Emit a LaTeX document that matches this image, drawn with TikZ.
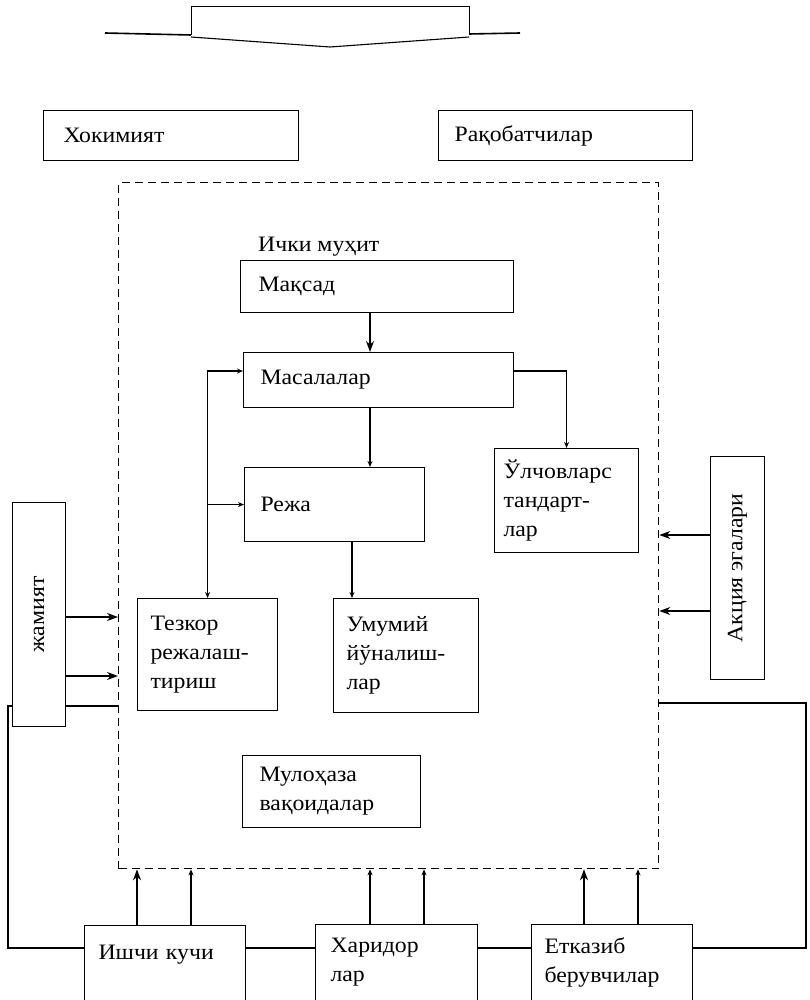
\documentclass[tikz,border=0pt]{standalone}
\usepackage{fontspec}
\setmainfont[FakeStretch=1.08]{Liberation Serif}
\usepackage{graphicx}
\usetikzlibrary{arrows.meta}
\begin{document}
\begin{tikzpicture}[x=1pt,y=-1pt,
 box/.style={draw, line width=1.1pt, fill=white, inner xsep=0pt, inner ysep=0pt, align=left, anchor=north west, font=\fontsize{22}{29}\selectfont},
 vbx/.style={draw, line width=1.1pt, fill=white, inner sep=0pt, anchor=north west, font=\fontsize{22}{29}\selectfont},
 thk/.style={line width=1.6pt, -{Stealth[length=11pt,width=8pt]}},
 thn/.style={line width=1.2pt, -{Stealth[length=6pt,width=5pt]}},
 ln/.style={line width=1.1pt}]
\useasboundingbox (0,0) rectangle (809,1000);
% top block arrow
\draw[line width=1pt] (191,35) -- (191,7) -- (469,7) -- (469,35);
\draw[line width=1.6pt] (105,33) -- (191,35);
\draw[line width=1.6pt] (469,34) -- (520,33);
\draw[line width=1.1pt] (191,37) -- (330,47) -- (469,37);
% environment
\node[draw, dash pattern=on 8pt off 5pt, line width=1.3pt, minimum width=540pt, minimum height=686pt, anchor=north west, inner sep=0pt] (env) at (118,182) {};
\node[anchor=west, inner sep=0pt, font=\fontsize{22}{29}\selectfont] (ich) at (258,247) {Ички муҳит};
% boxes
\node[box, minimum width=255pt, minimum height=50pt, text width=215pt] (hok) at (43,110) {Хокимият};
\node[box, minimum width=254pt, minimum height=50pt, text width=222pt] (rak) at (438,110) {Рақобатчилар};
\node[box, minimum width=273pt, minimum height=52pt, text width=237pt] (maq) at (240,260) {Мақсад};
\node[box, minimum width=270pt, minimum height=55pt, text width=236pt] (mas) at (243,352) {Масалалар};
\node[box, minimum width=180pt, minimum height=74pt, text width=148pt] (rej) at (244,467) {Режа};
\node[box, minimum width=144pt, minimum height=104pt, text width=126pt] (olc) at (494,448) {Ўлчовларс\\тандарт-\\лар};
\node[box, minimum width=140pt, minimum height=112pt, text width=114pt] (tez) at (137,598) {Тезкор\\режалаш-\\тириш};
\node[box, minimum width=145pt, minimum height=114pt, text width=119pt] (umu) at (333,598) {Умумий\\йўналиш-\\лар};
\node[box, minimum width=178pt, minimum height=72pt, text width=144pt] (mul) at (242,755) {Мулоҳаза\\вақоидалар};
\node[box, minimum width=161pt, minimum height=75pt, text width=133pt, text depth=22pt] (ish) at (84,925) {Ишчи кучи};
\node[box, minimum width=162pt, minimum height=76pt, text width=132pt] (har) at (315,924) {Харидор\\лар};
\node[box, minimum width=161pt, minimum height=76pt, text width=135pt] (etk) at (531,924) {Етказиб\\берувчилар};
\node[vbx, minimum width=54pt, minimum height=223pt] (akc) at (710,456) {\rotatebox{90}{Акция эгалари}};
% helper coordinates
\coordinate (yA) at (0,706);
\coordinate (yB) at (0,948);
\coordinate (yC) at (0,703);
\coordinate (xL) at (8,0);
\coordinate (xR) at (806,0);
% outer loop lines
\draw[ln] (env.west |- yA) -- (xL |- yA) -- (xL |- yB) -- (ish.west |- yB);
\draw[ln] (etk.east |- yB) -- (xR |- yB) -- (xR |- yC) -- (env.east |- yC);
\draw[ln] (ish.east |- yB) -- (har.west |- yB);
\draw[ln] (har.east |- yB) -- (etk.west |- yB);
\node[vbx, minimum width=53pt, minimum height=224pt] (jam) at (12,502) {\rotatebox{90}{жамият}};
% inner connectors
\coordinate (xm) at (370,0);
\coordinate (xr) at (352,0);
\draw[thk] (xm |- maq.south) -- (xm |- mas.north);
\draw[thn] (xm |- mas.south) -- (xm |- rej.north);
\draw[thn] ([yshift=9pt]mas.east) -| (olc.north);
\coordinate (j) at (tez.north |- rej.west);
\draw[thn] (j) |- ([yshift=9pt]mas.west);
\draw[thn] (j) -- (rej.west);
\draw[thn] (j) -- (tez.north);
\draw[thn] (xr |- rej.south) -- (xr |- umu.north);
% side arrows
\coordinate (ya1) at (0,617);
\coordinate (ya2) at (0,676);
\coordinate (yb1) at (0,535);
\coordinate (yb2) at (0,611);
\draw[thk] (jam.east |- ya1) -- (env.west |- ya1);
\draw[thk] (jam.east |- ya2) -- (env.west |- ya2);
\draw[thk] (akc.west |- yb1) -- (env.east |- yb1);
\draw[thk] (akc.west |- yb2) -- (env.east |- yb2);
% bottom arrows
\coordinate (b1) at (137,0);
\coordinate (b2) at (191,0);
\coordinate (b3) at (370,0);
\coordinate (b4) at (424,0);
\coordinate (b5) at (584,0);
\coordinate (b6) at (638,0);
\draw[thk] (b1 |- ish.north) -- (b1 |- env.south);
\draw[thn] (b2 |- ish.north) -- (b2 |- env.south);
\draw[thn] (b3 |- har.north) -- (b3 |- env.south);
\draw[thn] (b4 |- har.north) -- (b4 |- env.south);
\draw[thk] (b5 |- etk.north) -- (b5 |- env.south);
\draw[thn] (b6 |- etk.north) -- (b6 |- env.south);
\end{tikzpicture}
\end{document}
